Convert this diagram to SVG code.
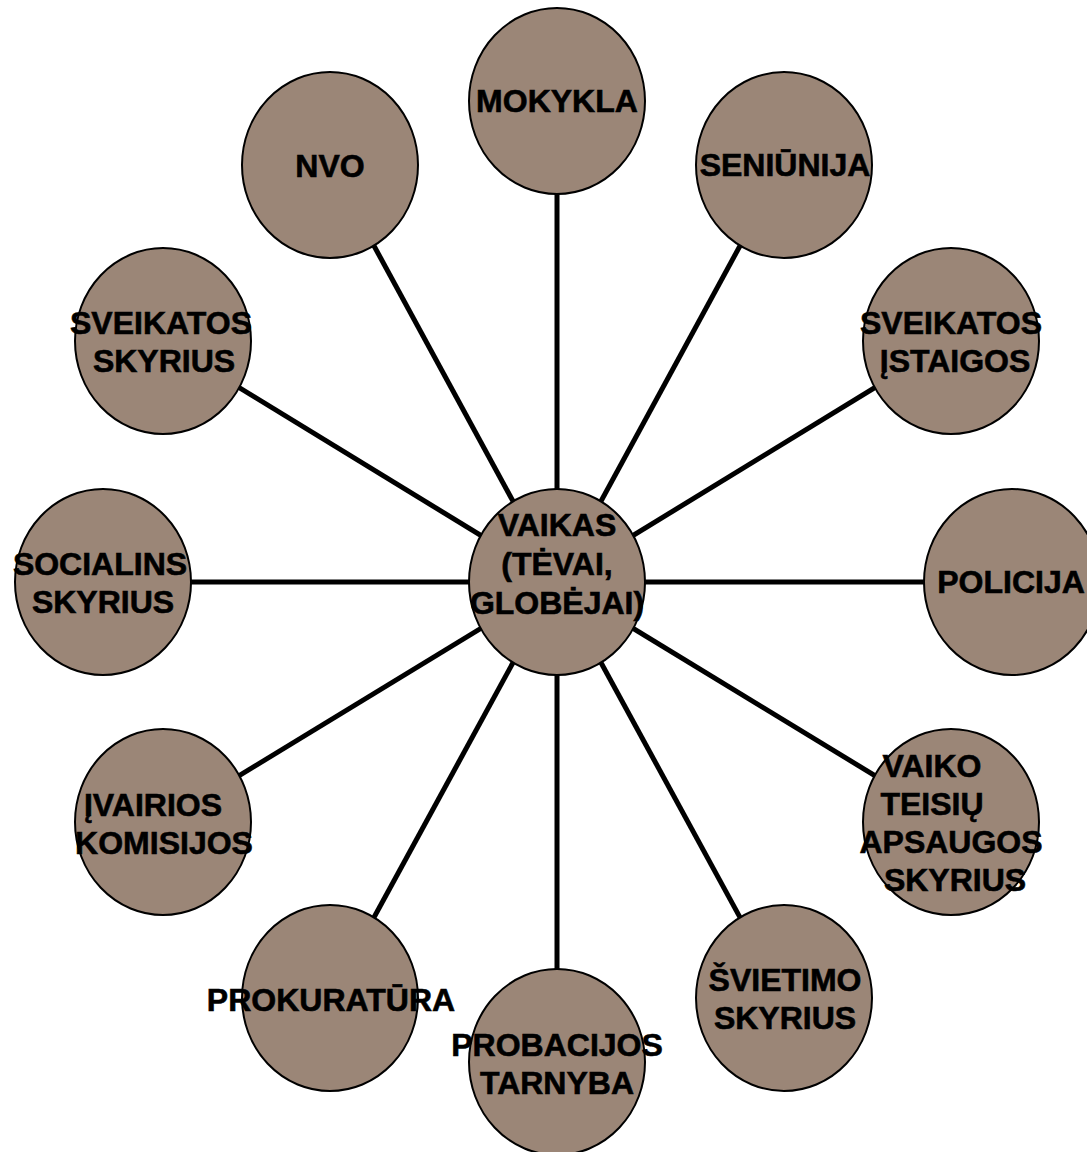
<svg xmlns="http://www.w3.org/2000/svg" width="1087" height="1152" viewBox="0 0 1087 1152">
<style>
.n ellipse{fill:#9b8677;stroke:#000;stroke-width:2}
.n text{font-family:"Liberation Sans",Arial,sans-serif;font-weight:bold;font-size:32px;fill:#000;stroke:#000;stroke-width:0.6;text-anchor:middle}
#connectors line{stroke:#000;stroke-width:5}
</style>
<rect width="1087" height="1152" fill="#fff"/>
<g id="connectors">
<line x1="557" y1="582" x2="557" y2="101"/>
<line x1="557" y1="582" x2="784" y2="165"/>
<line x1="557" y1="582" x2="951" y2="341"/>
<line x1="557" y1="582" x2="1012" y2="582"/>
<line x1="557" y1="582" x2="951" y2="822"/>
<line x1="557" y1="582" x2="784" y2="998"/>
<line x1="557" y1="582" x2="557" y2="1062"/>
<line x1="557" y1="582" x2="330" y2="998"/>
<line x1="557" y1="582" x2="163" y2="822"/>
<line x1="557" y1="582" x2="103" y2="582"/>
<line x1="557" y1="582" x2="163" y2="341"/>
<line x1="557" y1="582" x2="330" y2="165"/>
</g>
<g id="vaikas" class="n"><ellipse cx="557" cy="582" rx="88" ry="93"/><text x="557" y="536">VAIKAS</text><text x="557" y="575">(TĖVAI,</text><text x="557" y="614">GLOBĖJAI)</text></g>
<g id="mokykla" class="n"><ellipse cx="557" cy="101" rx="88" ry="93"/><text x="557" y="112">MOKYKLA</text></g>
<g id="seniunija" class="n"><ellipse cx="784" cy="165" rx="88" ry="93"/><text x="785" y="176">SENIŪNIJA</text></g>
<g id="sveikatos-istaigos" class="n"><ellipse cx="951" cy="341" rx="88" ry="93"/><text x="951" y="334">SVEIKATOS</text><text x="955" y="372">ĮSTAIGOS</text></g>
<g id="policija" class="n"><ellipse cx="1012" cy="582" rx="88" ry="93"/><text x="1011" y="593">POLICIJA</text></g>
<g id="vaiko-teisiu" class="n"><ellipse cx="951" cy="822" rx="88" ry="93"/><text x="932" y="777">VAIKO</text><text x="932" y="815">TEISIŲ</text><text x="951" y="853">APSAUGOS</text><text x="955" y="891">SKYRIUS</text></g>
<g id="svietimo" class="n"><ellipse cx="784" cy="998" rx="88" ry="93"/><text x="785" y="991">ŠVIETIMO</text><text x="785" y="1029">SKYRIUS</text></g>
<g id="probacijos" class="n"><ellipse cx="557" cy="1062" rx="88" ry="93"/><text x="557" y="1056">PROBACIJOS</text><text x="557" y="1094">TARNYBA</text></g>
<g id="prokuratura" class="n"><ellipse cx="330" cy="998" rx="88" ry="93"/><text x="331" y="1011">PROKURATŪRA</text></g>
<g id="ivairios" class="n"><ellipse cx="163" cy="822" rx="88" ry="93"/><text x="153" y="816">ĮVAIRIOS</text><text x="164" y="854">KOMISIJOS</text></g>
<g id="socialins" class="n"><ellipse cx="103" cy="582" rx="88" ry="93"/><text x="100" y="575">SOCIALINS</text><text x="103" y="613">SKYRIUS</text></g>
<g id="sveikatos-skyrius" class="n"><ellipse cx="163" cy="341" rx="88" ry="93"/><text x="161" y="334">SVEIKATOS</text><text x="164" y="372">SKYRIUS</text></g>
<g id="nvo" class="n"><ellipse cx="330" cy="165" rx="88" ry="93"/><text x="330" y="177">NVO</text></g>
</svg>
